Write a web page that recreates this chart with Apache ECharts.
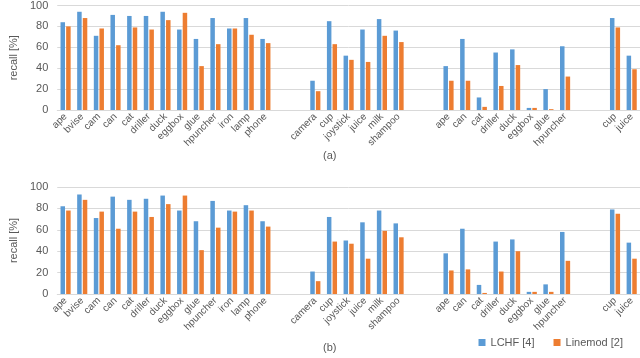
<!DOCTYPE html>
<html>
<head>
<meta charset="utf-8">
<script src="https://cdn.jsdelivr.net/npm/echarts@6/dist/echarts.min.js"></script>
<style>
  html, body { margin: 0; padding: 0; background: #fff; }
  #chart { width: 640px; height: 358px; }
</style>
</head>
<body>
<div id="chart"></div>
<script>
  // categories, blank = empty slot between groups
  var categories = ['ape', 'bvise', 'cam', 'can', 'cat', 'driller', 'duck', 'eggbox', 'glue', 'hpuncher', 'iron', 'lamp', 'phone',
    '', ' ',
    'camera', 'cup', 'joystick', 'juice', 'milk', 'shampoo',
    '  ', '   ',
    'ape ', 'can ', 'cat ', 'driller ', 'duck ', 'eggbox ', 'glue ', 'hpuncher ',
    '    ', '     ',
    'cup ', 'juice ']
  var seriesNames = ['LCHF [4]', 'Linemod [2]']
  // panel (a)
  var lchfA = [84, 94, 71, 91, 90, 90, 94, 77, 68, 88, 78, 88, 68,
    null, null,
    28, 85, 52, 77, 87, 76,
    null, null,
    42, 68, 12, 55, 58, 2, 20, 61,
    null, null,
    88, 52]
  var linemodA = [80, 88, 78, 62, 79, 77, 86, 93, 42, 63, 78, 72, 64,
    null, null,
    18, 63, 48, 46, 71, 65,
    null, null,
    28, 28, 3, 23, 43, 2, 0.8, 32,
    null, null,
    79, 39]
  // panel (b)
  var lchfB = [82, 93, 71, 91, 88, 89, 92, 78, 68, 87, 78, 83, 68,
    null, null,
    21, 72, 50, 67, 78, 66,
    null, null,
    38, 61, 8.5, 49, 51, 2, 9, 58,
    null, null,
    79, 48]
  var linemodB = [78, 88, 77, 61, 77, 72, 84, 92, 41, 62, 77, 78, 63,
    null, null,
    12, 49, 47, 33, 59, 53,
    null, null,
    22, 23, 1, 21, 40, 2, 2, 31,
    null, null,
    75, 33]
  var panelLabels = ['(a)', '(b)']

  var blue = '#5B9BD5'
  var orange = '#ED7D31'
  var textColor = '#595959'
  var font = 'Liberation Sans'

  function xAxis (idx) {
    return {
      type: 'category',
      gridIndex: idx,
      data: categories,
      axisTick: { show: false },
      axisLine: { lineStyle: { color: '#d9d9d9' } },
      axisLabel: {
        interval: 0,
        rotate: 45,
        margin: 5,
        color: textColor,
        fontSize: 10,
        fontFamily: font,
        formatter: function (v) { return v.trim() }
      }
    }
  }
  function yAxis (idx) {
    return {
      type: 'value',
      gridIndex: idx,
      min: 0,
      max: 100,
      interval: 20,
      name: 'recall [%]',
      nameLocation: 'middle',
      nameGap: 29,
      nameTextStyle: { color: textColor, fontSize: 11, fontFamily: font },
      axisLine: { show: false },
      axisTick: { show: false },
      axisLabel: { color: textColor, fontSize: 11, fontFamily: font, margin: 9 },
      splitLine: { lineStyle: { color: '#d9d9d9' } }
    }
  }
  function bar (name, color, data, idx) {
    return {
      name: name,
      type: 'bar',
      xAxisIndex: idx,
      yAxisIndex: idx,
      barWidth: 4.5,
      barGap: '25%',
      itemStyle: { color: color },
      data: data
    }
  }

  var chart = echarts.init(document.getElementById('chart'))
  chart.setOption({
    animation: false,
    textStyle: { fontFamily: font },
    legend: {
      data: seriesNames,
      right: 12,
      bottom: 5,
      itemWidth: 7,
      itemHeight: 7,
      itemGap: 19,
      icon: 'rect',
      textStyle: { color: textColor, fontSize: 11, fontFamily: font }
    },
    title: [
      { text: panelLabels[0], left: 318, top: 145, textStyle: { color: textColor, fontSize: 11, fontWeight: 'normal', fontFamily: font } },
      { text: panelLabels[1], left: 318, top: 337, textStyle: { color: textColor, fontSize: 11, fontWeight: 'normal', fontFamily: font } }
    ],
    grid: [
      { left: 40, right: 0, top: 4, height: 106 },
      { left: 40, right: 0, top: 187, height: 107 }
    ],
    xAxis: [xAxis(0), xAxis(1)],
    yAxis: [yAxis(0), yAxis(1)],
    series: [
      bar(seriesNames[0], blue, lchfA, 0),
      bar(seriesNames[1], orange, linemodA, 0),
      bar(seriesNames[0], blue, lchfB, 1),
      bar(seriesNames[1], orange, linemodB, 1)
    ]
  })
</script>
</body>
</html>
